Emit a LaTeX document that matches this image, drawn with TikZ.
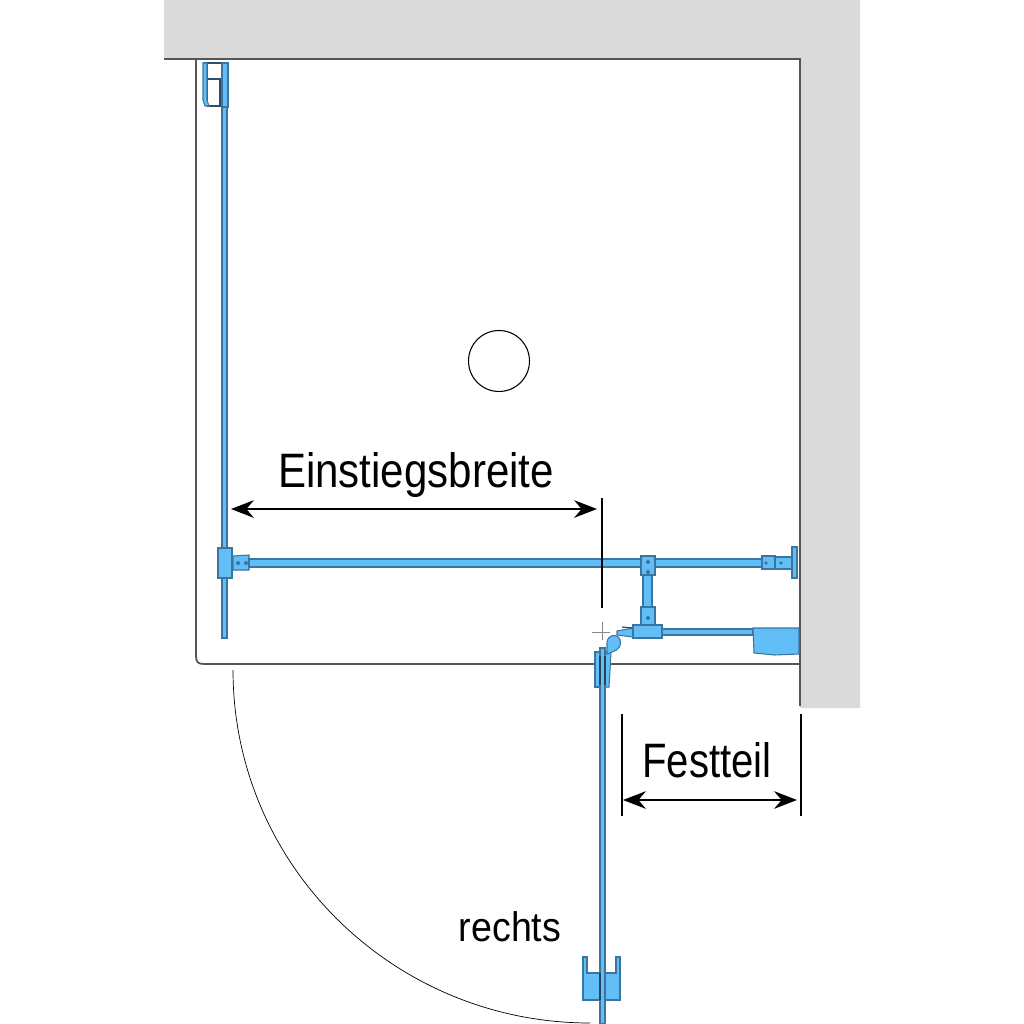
\documentclass[tikz,border=0pt]{standalone}
\usepackage{fontspec}
\setmainfont{Liberation Sans}
\usetikzlibrary{arrows.meta}
\definecolor{wallgrey}{HTML}{DADADA}
\definecolor{lineg}{HTML}{555555}
\definecolor{glassblue}{HTML}{62BEF6}
\definecolor{edgeblue}{HTML}{3A749F}
\tikzset{
  wall/.style={fill=wallgrey,draw=none},
  room/.style={draw=lineg,line width=1pt},
  part/.style={fill=glassblue,draw=edgeblue,line width=0.6pt},
  glass/.style={fill=glassblue,draw=edgeblue,line width=0.7pt},
  pin/.style={fill=edgeblue,draw=none},
  dimline/.style={draw=black,line width=1pt},
  dimarrow/.style={draw=black,line width=1.1pt,{Stealth[length=13pt,width=10pt]}-{Stealth[length=13pt,width=10pt]}},
  lab/.style={inner sep=0pt,text=black}
}
\newcommand{\sq}[2]{\scalebox{#1}[1]{#2}}
\begin{document}
\begin{tikzpicture}[x=0.02cm,y=-0.02cm]
\useasboundingbox (0,0) rectangle (1024,1024);
% walls
\fill[wall] (164,0) -- (860,0) -- (860,708) -- (800,708) -- (800,59) -- (164,59) -- cycle;
\draw[room] (164,59) -- (800,59) -- (800,706);
\draw[room] (196,59) -- (196,656) .. controls (196,662) and (198,664) .. (204,664) -- (800,664);
% drain
\node[draw=black,line width=0.6pt,circle,minimum size=1.22cm,inner sep=0pt] (drain) at (499,361) {};
% door swing
\draw[black,line width=0.4pt] (233,670) .. controls (233,865) and (393,1023) .. (590,1023);
% left glass with top bracket
\draw[edgeblue!70!black,line width=0.6pt] (203,63) -- (229,63) (207,79) -- (221,79) (207,106) -- (222,106) (220,79) -- (220,106) (207,63) -- (207,106);
\draw[part] (203,63) -- (207,63) -- (207,100) -- (209,106) -- (205,106) -- (203,100) -- cycle;
\draw[glass] (222,63) rectangle (228,107);
\draw[glass] (222,107) rectangle (227,638);
% left wall-bar fitting
\draw[part] (218,548) rectangle (232,578);
\draw[part] (233,556) -- (249,555) -- (249,570) -- (233,570) -- cycle;
\fill[pin] (238,563) circle (2) (246,563) circle (2);
% main horizontal bar
\draw[glass] (249,559) rectangle (762,567);
% T piece
\draw[glass] (643,575) rectangle (652,607);
\draw[part] (641,556) rectangle (655,575);
\fill[pin] (648,562) circle (2) (648,572) circle (2);
% right bar end
\draw[part] (762,556) rectangle (775,569);
\draw[part] (775,557) rectangle (792,569);
\draw[part] (792,547) rectangle (797,578);
\fill[pin] (766,563) circle (1.8) (781,563) circle (1.8);
% lower fitting
\draw[part] (641,607) rectangle (655,625);
\fill[pin] (648,618) circle (2);
\draw[glass] (662,629) rectangle (753,635);
\draw[part] (617,631) -- (633,628) -- (633,637) -- (617,635) -- cycle;
\draw[edgeblue!70!black,line width=0.7pt] (622,627) -- (633,628);
\draw[part] (633,625) rectangle (662,638);
\draw[part] (753,628) -- (799,628) -- (799,654) -- (775,655) -- (754,653) -- cycle;
% crosshair
\draw[lineg!70,line width=0.4pt] (592,632) -- (610,632) (602,622) -- (602,640);
% hinge and door
\draw[part] (605,652) -- (611,652) -- (610,670) -- (609,687) -- (605,687) -- cycle;
\draw[part] (607,654) -- (607,643) .. controls (607,633) and (621,633) .. (620.5,643) .. controls (620,650) and (614,651) .. (610,653) -- cycle;
\draw[part] (595,652) rectangle (600,687);
% door bottom handle
\draw[part] (583,957) -- (587,957) -- (587,973) -- (616,973) -- (616,957) -- (620,957) -- (620,1000) -- (583,1000) -- cycle;
\draw[glass] (600,648) rectangle (605,1024);
\draw[edgeblue!60!black,line width=1pt] (605,656) -- (605,685) (600,656) -- (600,685);
\draw[edgeblue!60!black,line width=1.2pt] (600,973) -- (600,1000);
% dimensions
\coordinate (einA) at (231,509);
\coordinate (einB) at (597,509);
\coordinate (einT) at (602,498);
\coordinate (einU) at (602,608);
\coordinate (fesA) at (623,800);
\coordinate (fesB) at (797,800);
\coordinate (fesL1) at (622,714);
\coordinate (fesL2) at (622,816);
\coordinate (fesR1) at (801,714);
\coordinate (fesR2) at (801,816);
\draw[dimarrow] (einA) -- (einB);
\draw[dimline] (einT) -- (einU);
\draw[dimarrow] (fesA) -- (fesB);
\draw[dimline] (fesL1) -- (fesL2);
\draw[dimline] (fesR1) -- (fesR2);
% labels
\node[lab,font=\fontsize{27.5pt}{30pt}\selectfont] (einst) at (416,475) {\sq{0.87}{Einstiegsbreite}};
\node[lab,font=\fontsize{27.5pt}{30pt}\selectfont] (fest) at (707,760) {\sq{0.83}{Festteil}};
\node[lab,font=\fontsize{23.5pt}{26pt}\selectfont] (recht) at (510,927) {\sq{0.91}{rechts}};
\end{tikzpicture}
\end{document}
